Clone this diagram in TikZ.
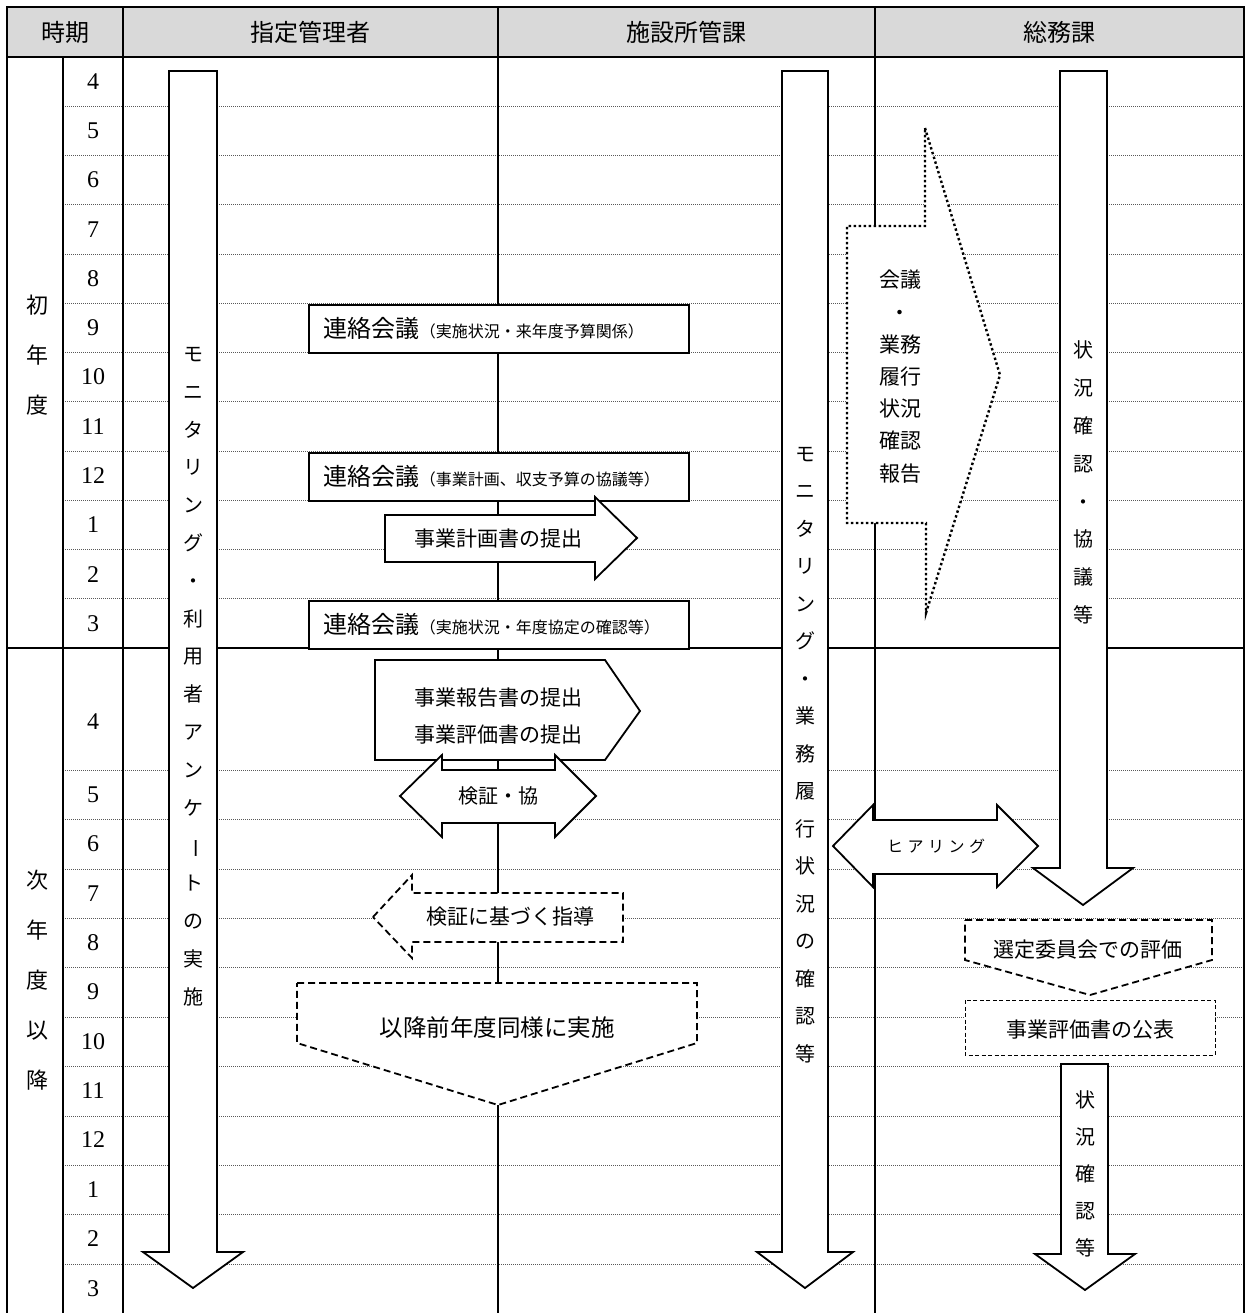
\documentclass[tikz,border=0pt]{standalone}
\usepackage{fontspec}
\usepackage{graphicx}
\setmainfont{Liberation Serif}
\newfontfamily\cjk{Noto Sans CJK JP}
\newcommand{\vchoon}{\rotatebox[origin=c]{-90}{ー}}
\tikzset{
  tline/.style={line width=1.8pt},
  gridline/.style={draw=black!65, line width=0.6pt, dash pattern=on 1pt off 1pt},
  shp/.style={draw, fill=white, line width=1.8pt, line join=miter},
  dshp/.style={draw, fill=white, line width=1.8pt, dash pattern=on 7pt off 4pt},
  dotshp/.style={draw, fill=white, line width=2.4pt, dash pattern=on 2.4pt off 2.6pt},
  tdshp/.style={draw, fill=white, line width=1pt, dash pattern=on 4pt off 2.5pt},
  jp/.style={font=\cjk\fontsize{#1}{#1}\selectfont, inner sep=0pt},
  vtext/.style 2 args={font=\cjk\fontsize{#1}{#2}\selectfont, align=center, inner sep=0pt},
  num/.style={font=\fontsize{24}{24}\selectfont, inner sep=0pt},
  meeting/.style={shp, font=\cjk, anchor=north west, minimum width=380pt, minimum height=48pt,
    inner xsep=15pt, inner ysep=0pt, text width=350pt, align=left},
}
\begin{document}
\begin{tikzpicture}[x=1pt,y=-1pt]
\useasboundingbox (0,0) rectangle (1250,1313);
% header
\fill[black!15] (7,7) rectangle (1244,57);
% grid lines
\foreach \k in {1,...,11} \draw[gridline] (63,{57+49.25*\k}) -- (1244,{57+49.25*\k});
\foreach \k in {0,...,10} \draw[gridline] (63,{770+49.4*\k}) -- (1244,{770+49.4*\k});
% table lines
\draw[tline] (7,1313) -- (7,7) -- (1244,7) -- (1244,1313);
\draw[tline] (7,57) -- (1244,57);
\draw[tline] (7,648) -- (1244,648);
\draw[tline] (63,57) -- (63,1313);
\draw[tline] (123,7) -- (123,1313);
\draw[tline] (498,7) -- (498,1313);
\draw[tline] (875,7) -- (875,1313);
% header texts
\node[jp=24] (h1) at (65,32) {時期};
\node[jp=24] (h2) at (310,32) {指定管理者};
\node[jp=24] (h3) at (686,32) {施設所管課};
\node[jp=24] (h4) at (1059,32) {総務課};
% year labels
\node[vtext={22}{50}] (y1) at (38,355) {初\\年\\度};
\node[vtext={22}{50}] (y2) at (38,980) {次\\年\\度\\以\\降};
% months
\foreach \lab/\yy [count=\i] in {4/81.6,5/130.9,6/180.1,7/229.4,8/278.6,9/327.9,10/377.1,11/426.4,12/475.6,1/524.9,2/574.1,3/623.4}
  \node[num] (ma\i) at (93,\yy) {\lab};
\foreach \lab/\yy [count=\i] in {4/722,5/794.7,6/844,7/893.5,8/943,9/992,10/1041.5,11/1091,12/1140,1/1190,2/1239,3/1288.6}
  \node[num] (mb\i) at (93,\yy) {\lab};
% big down arrows
\draw[shp] (169,71) -- (217,71) -- (217,1252) -- (243,1252) -- (193,1288) -- (143,1252) -- (169,1252) -- cycle;
\node[vtext={20}{37.8}] (t1) at (193,676.5) {モ\\ニ\\タ\\リ\\ン\\グ\\・\\利\\用\\者\\ア\\ン\\ケ\\\vchoon\\ト\\の\\実\\施};
\draw[shp] (782,71) -- (828,71) -- (828,1252) -- (853,1252) -- (805,1288) -- (757,1252) -- (782,1252) -- cycle;
\node[vtext={20}{37.5}] (t2) at (805,755) {モ\\ニ\\タ\\リ\\ン\\グ\\・\\業\\務\\履\\行\\状\\況\\の\\確\\認\\等};
\draw[shp] (1060,71) -- (1107,71) -- (1107,868) -- (1133,868) -- (1083,905) -- (1033,868) -- (1060,868) -- cycle;
\node[vtext={20}{37.9}] (t3) at (1083,482.5) {状\\況\\確\\認\\・\\協\\議\\等};
\draw[shp] (1061,1064) -- (1108,1064) -- (1108,1254) -- (1135,1254) -- (1085,1290) -- (1035,1254) -- (1061,1254) -- cycle;
\node[vtext={20}{37}] (t4) at (1085,1174) {状\\況\\確\\認\\等};
% dotted arrow
\draw[dotshp] (925,128) -- (1000,375) -- (926,613) -- (926,523) -- (847,523) -- (847,226) -- (925,226) -- cycle;
\node[vtext={21}{32.2}] (t5) at (900,376.5) {会議\\・\\業務\\履行\\状況\\確認\\報告};
% meetings
\node[meeting] (r1) at (308,304) {{\fontsize{24}{24}\selectfont 連絡会議}{\fontsize{16}{16}\selectfont （実施状況・来年度予算関係）}};
\node[meeting] (r2) at (308,452) {{\fontsize{24}{24}\selectfont 連絡会議}{\fontsize{16}{16}\selectfont （事業計画、収支予算の協議等）}};
\node[meeting] (r3) at (308,600) {{\fontsize{24}{24}\selectfont 連絡会議}{\fontsize{16}{16}\selectfont （実施状況・年度協定の確認等）}};
% plan submission arrow
\draw[shp] (385,515) -- (595,515) -- (595,497) -- (637,538) -- (595,579) -- (595,562) -- (385,562) -- cycle;
\node[jp=21] (t6) at (498,539) {事業計画書の提出};
% report pentagon
\draw[shp] (375,660) -- (605,660) -- (640,711) -- (605,760) -- (375,760) -- cycle;
\node[vtext={21}{37}] (t7) at (498,716) {事業報告書の提出\\事業評価書の提出};
% verification double arrow
\draw[shp] (400,796) -- (442,755) -- (442,770) -- (555,770) -- (555,755) -- (596,796) -- (555,837) -- (555,823) -- (442,823) -- (442,837) -- cycle;
\node[jp=20] (t8) at (498,796) {検証・協};
% guidance dashed arrow
\draw[dshp] (373,917) -- (412,875) -- (412,893) -- (623,893) -- (623,942) -- (412,942) -- (412,958) -- cycle;
\node[jp=21] (t9) at (510,917) {検証に基づく指導};
% continue pentagon
\draw[dshp] (297,983) -- (697,983) -- (697,1043) -- (498,1105) -- (297,1043) -- cycle;
\node[jp=23.5] (t10) at (497,1028) {以降前年度同様に実施};
% hearing double arrow
\draw[shp] (833,846) -- (873,805) -- (873,820) -- (997,820) -- (997,805) -- (1038,846) -- (997,887) -- (997,874) -- (873,874) -- (873,887) -- cycle;
\node[jp=16] (t11) at (936,846) {ヒ\hspace{4.5pt}ア\hspace{4.5pt}リ\hspace{4.5pt}ン\hspace{4.5pt}グ};
% selection committee
\draw[dshp] (965,920) -- (1212,920) -- (1212,960) -- (1090,995) -- (965,960) -- cycle;
\node[jp=21] (t12) at (1088,950) {選定委員会での評価};
% publication
\draw[tdshp] (965,1000) rectangle (1215,1055);
\node[jp=21] (t13) at (1090,1030) {事業評価書の公表};
\end{tikzpicture}
\end{document}
